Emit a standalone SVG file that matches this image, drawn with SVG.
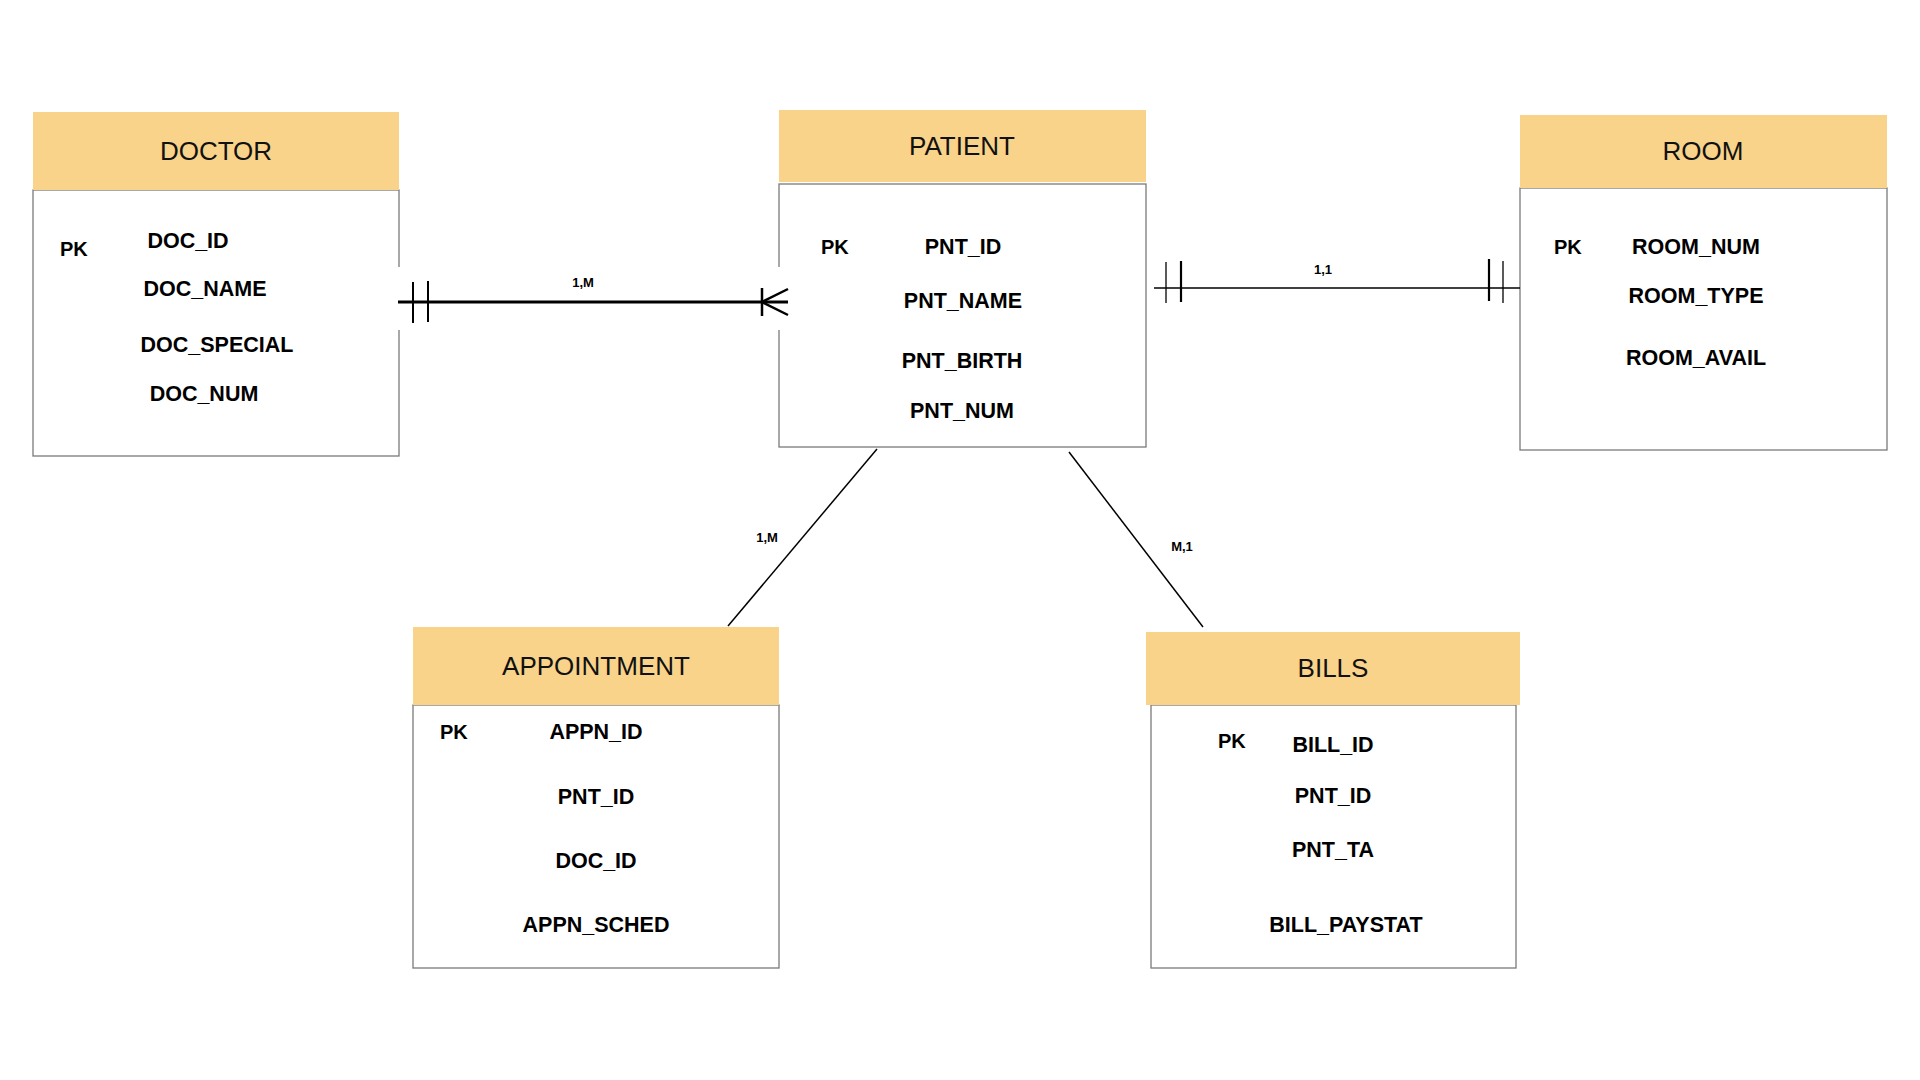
<svg xmlns="http://www.w3.org/2000/svg" width="1920" height="1080" viewBox="0 0 1920 1080">
<style>
.hdr{fill:#F9D38A}
.body{fill:#fff;stroke:#7a7a7a;stroke-width:1.3}
.title{font-family:"Liberation Sans",Arial,sans-serif;font-size:26px;fill:#111;text-anchor:middle}
.fld{font-family:"Liberation Sans",Arial,sans-serif;font-size:21.5px;font-weight:bold;fill:#000;text-anchor:middle}
.pk{font-family:"Liberation Sans",Arial,sans-serif;font-size:20px;font-weight:bold;fill:#000}
.lbl{font-family:"Liberation Sans",Arial,sans-serif;font-size:13px;font-weight:bold;fill:#000;text-anchor:middle}
.ln{stroke:#000;fill:none}
</style>
<rect width="1920" height="1080" fill="#fff"/>
<g id="doctor">
<rect class="body" x="33" y="190" width="366" height="266"/>
<rect class="hdr" x="33" y="112" width="366" height="78"/>
<text class="title" x="216" y="160">DOCTOR</text>
<text class="pk" x="60" y="256">PK</text>
<text class="fld" x="188" y="248">DOC_ID</text>
<text class="fld" x="205" y="296">DOC_NAME</text>
<text class="fld" x="217" y="352">DOC_SPECIAL</text>
<text class="fld" x="204" y="401">DOC_NUM</text>
</g>
<g id="patient">
<rect class="body" x="779" y="184" width="367" height="263"/>
<rect class="hdr" x="779" y="110" width="367" height="72"/>
<text class="title" x="962" y="155">PATIENT</text>
<text class="pk" x="821" y="254">PK</text>
<text class="fld" x="963" y="254">PNT_ID</text>
<text class="fld" x="963" y="308">PNT_NAME</text>
<text class="fld" x="962" y="368">PNT_BIRTH</text>
<text class="fld" x="962" y="418">PNT_NUM</text>
</g>
<g id="room">
<rect class="body" x="1520" y="188" width="367" height="262"/>
<rect class="hdr" x="1520" y="115" width="367" height="73"/>
<text class="title" x="1703" y="160">ROOM</text>
<text class="pk" x="1554" y="254">PK</text>
<text class="fld" x="1696" y="254">ROOM_NUM</text>
<text class="fld" x="1696" y="303">ROOM_TYPE</text>
<text class="fld" x="1696" y="365">ROOM_AVAIL</text>
</g>
<g id="appointment">
<rect class="body" x="413" y="705" width="366" height="263"/>
<rect class="hdr" x="413" y="627" width="366" height="78"/>
<text class="title" x="596" y="675">APPOINTMENT</text>
<text class="pk" x="440" y="739">PK</text>
<text class="fld" x="596" y="739">APPN_ID</text>
<text class="fld" x="596" y="804">PNT_ID</text>
<text class="fld" x="596" y="868">DOC_ID</text>
<text class="fld" x="596" y="932">APPN_SCHED</text>
</g>
<g id="bills">
<rect class="body" x="1151" y="705" width="365" height="263"/>
<rect class="hdr" x="1146" y="632" width="374" height="73"/>
<text class="title" x="1333" y="677">BILLS</text>
<text class="pk" x="1218" y="748">PK</text>
<text class="fld" x="1333" y="752">BILL_ID</text>
<text class="fld" x="1333" y="803">PNT_ID</text>
<text class="fld" x="1333" y="857">PNT_TA</text>
<text class="fld" x="1346" y="932">BILL_PAYSTAT</text>
</g>
<g id="connectors">
<rect x="398" y="267" width="392" height="63" fill="#fff"/>
<line class="ln" x1="398" y1="302" x2="788" y2="302" stroke-width="3" stroke="#222"/>
<line class="ln" x1="413" y1="282" x2="413" y2="323" stroke-width="2"/>
<line class="ln" x1="428" y1="281" x2="428" y2="322" stroke-width="2"/>
<line class="ln" x1="762" y1="288" x2="762" y2="316" stroke-width="2.5" stroke="#222"/>
<path class="ln" d="M788 289 L762 302 L788 315" stroke-width="2.5" stroke="#222"/>
<text class="lbl" x="583" y="287">1,M</text>
<line class="ln" x1="1154" y1="288" x2="1520" y2="288" stroke-width="1.5"/>
<line class="ln" x1="1166" y1="262" x2="1166" y2="303" stroke-width="1.3"/>
<line class="ln" x1="1181" y1="261" x2="1181" y2="302" stroke-width="2.2"/>
<line class="ln" x1="1489" y1="259" x2="1489" y2="301" stroke-width="2.2"/>
<line class="ln" x1="1503" y1="261" x2="1503" y2="303" stroke-width="1.3"/>
<text class="lbl" x="1323" y="274">1,1</text>
<line class="ln" x1="877" y1="449" x2="728" y2="626" stroke-width="1.5"/>
<text class="lbl" x="767" y="542">1,M</text>
<line class="ln" x1="1069" y1="452" x2="1203" y2="627" stroke-width="1.5"/>
<text class="lbl" x="1182" y="551">M,1</text>
</g>
</svg>
